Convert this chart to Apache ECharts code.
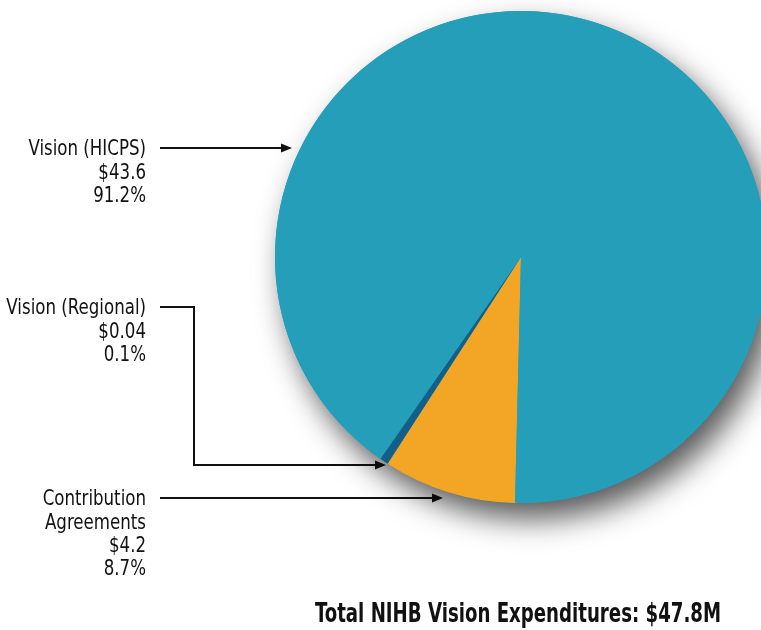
<!DOCTYPE html>
<html>
<head>
<meta charset="utf-8">
<script src="https://cdn.jsdelivr.net/npm/echarts@6/dist/echarts.min.js"></script>
<style>
  html, body { margin: 0; padding: 0; background: #fff; }
  #chart { width: 761px; height: 630px; }
</style>
</head>
<body>
<div id="chart"></div>
<script>
// NIHB vision expenditures ($ millions), in drawing order (clockwise)
const categories = ['Contribution Agreements', 'Vision (Regional)', 'Vision (HICPS)'];
const labelLines = [['Contribution', 'Agreements'], ['Vision (Regional)'], ['Vision (HICPS)']];
const amounts = [4.2, 0.04, 43.6];
const amountLabels = ['$4.2', '$0.04', '$43.6'];
const shareLabels = ['8.7%', '0.1%', '91.2%'];
const colors = ['#f3a625', '#135f89', '#259eb9'];
const totalLabel = 'Total NIHB Vision Expenditures: $47.8M';

const FONT = '"DejaVu Sans Condensed", "Liberation Sans Narrow", "Roboto", sans-serif';
const chart = echarts.init(document.getElementById('chart'), null, { renderer: 'canvas' });

const CX = 521, CY = 257, R = 246;

// callout text blocks (right-aligned) and arrow paths
const callouts = [
  { idx: 2, lineY: 150, path: [[160, 148], [292, 148]] },
  { idx: 1, lineY: 309, path: [[160, 307], [194, 307], [194, 465], [386, 465]] },
  { idx: 0, lineY: 500, path: [[160, 498], [443, 498]] }
];
const LH = 23.4;

const graphics = [];
callouts.forEach(c => {
  const lines = labelLines[c.idx].concat([amountLabels[c.idx], shareLabels[c.idx]]);
  lines.forEach((t, k) => {
    graphics.push({
      type: 'text', x: 146, y: c.lineY + k * LH, scaleY: 1.1,
      style: { text: t, font: '18.5px ' + FONT, fill: '#111',
               textAlign: 'right', textVerticalAlign: 'middle' }
    });
  });
  const p = c.path;
  const last = p[p.length - 1], prev = p[p.length - 2];
  const dir = Math.sign(last[0] - prev[0]);
  const shaft = p.slice(0, -1).concat([[last[0] - dir * 8, last[1]]]);
  graphics.push({
    type: 'polyline', shape: { points: shaft },
    style: { stroke: '#111', lineWidth: 2, fill: null }
  });
  graphics.push({
    type: 'polygon',
    shape: { points: [[last[0], last[1]], [last[0] - dir * 11, last[1] - 4.5], [last[0] - dir * 11, last[1] + 4.5]] },
    style: { fill: '#111' }
  });
});
graphics.push({
  type: 'text', x: 315, y: 615, scaleY: 1.32,
  style: { text: totalLabel, font: 'bold 20.2px ' + FONT, fill: '#111',
           textAlign: 'left', textVerticalAlign: 'middle' }
});

const total = amounts.reduce((a, b) => a + b, 0);

chart.setOption({
  animation: false,
  backgroundColor: '#ffffff',
  graphic: graphics,
  series: [
    {
      // backing disc that casts the drop shadow
      type: 'pie', silent: true, z: 1,
      center: [CX, CY], radius: R,
      label: { show: false }, labelLine: { show: false },
      itemStyle: { color: colors[2], shadowBlur: 30, shadowOffsetX: 10, shadowOffsetY: 16,
                   shadowColor: 'rgba(0,0,0,0.65)' },
      data: [{ value: total, name: 'total' }]
    },
    {
      type: 'pie', silent: true, z: 2,
      center: [CX, CY], radius: R,
      startAngle: 90 - 181.4, clockwise: true, minAngle: 2,
      label: { show: false }, labelLine: { show: false },
      itemStyle: { borderWidth: 0 },
      data: categories.map((n, i) => ({ name: n, value: amounts[i], itemStyle: { color: colors[i] } }))
    }
  ]
});
</script>
</body>
</html>
